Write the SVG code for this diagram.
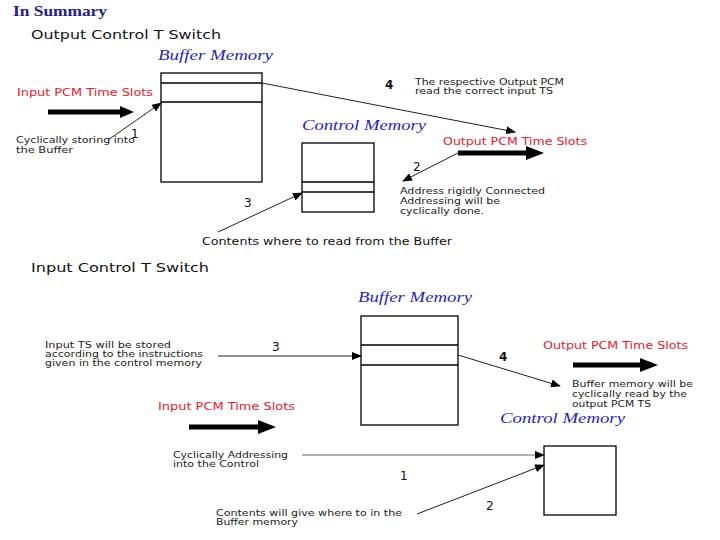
<svg xmlns="http://www.w3.org/2000/svg" width="720" height="540" viewBox="0 0 720 540">
<defs>
<style>
text{lengthAdjust:spacingAndGlyphs}
.t{font-family:"DejaVu Sans","Liberation Sans",sans-serif;fill:#111}
.h{font-size:13px}
.s{font-size:8.8px;fill:#222}
.m{font-size:11px}
.red{font-family:"DejaVu Sans","Liberation Sans",sans-serif;font-size:11px;fill:#e8202a}
.ttl{font-family:"Liberation Serif",serif;font-style:italic;font-size:15.5px;fill:#2424c8}
.n{font-family:"DejaVu Sans",sans-serif;font-size:12px;fill:#111}
.box{fill:#fff;stroke:#000;stroke-width:1.3}
.ln{stroke:#000;stroke-width:1.3}
.c{stroke:#222;stroke-width:1;fill:none;marker-end:url(#ah)}
.g{stroke:#999;stroke-width:1.3;fill:none;marker-end:url(#ah)}
.thick{stroke:#000;stroke-width:5;fill:none}
</style>
<marker id="ah" markerWidth="10" markerHeight="8" refX="9" refY="4" orient="auto" markerUnits="userSpaceOnUse">
<path d="M0,0 L10,4 L0,8 z" fill="#000"/>
</marker>
</defs>
<rect width="720" height="540" fill="#fff"/>
<text x="13" y="16" font-family="Liberation Serif,serif" font-weight="bold" font-size="14.5" fill="#22228a" textLength="94" lengthAdjust="spacingAndGlyphs">In Summary</text>
<text class="t h" x="31" y="39" textLength="190" lengthAdjust="spacingAndGlyphs">Output Control T Switch</text>
<text class="t h" x="31" y="272" textLength="178" lengthAdjust="spacingAndGlyphs">Input Control T Switch</text>

<g id="buffer1">
<text class="ttl" x="158" y="60" textLength="115" lengthAdjust="spacingAndGlyphs">Buffer Memory</text>
<rect class="box" x="161" y="73" width="101" height="109"/>
<line class="ln" x1="161" y1="83" x2="262" y2="83"/>
<line class="ln" x1="161" y1="102" x2="262" y2="102"/>
</g>
<g id="control1">
<text class="ttl" x="302" y="130" textLength="124" lengthAdjust="spacingAndGlyphs">Control Memory</text>
<rect class="box" x="302" y="143" width="72" height="69"/>
<line class="ln" x1="302" y1="182" x2="374" y2="182"/>
<line class="ln" x1="302" y1="192" x2="374" y2="192"/>
</g>
<g id="input1">
<text class="red" x="17" y="96" textLength="136" lengthAdjust="spacingAndGlyphs">Input PCM Time Slots</text>
<line class="thick" x1="48" y1="112" x2="122" y2="112"/>
<path d="M120,106 L134,112 L120,118 z" fill="#000"/>
<text class="t s" x="16" y="143" textLength="119" lengthAdjust="spacingAndGlyphs">Cyclically storing into</text>
<text class="t s" x="16" y="153" textLength="57" lengthAdjust="spacingAndGlyphs">the Buffer</text>
</g>
<g id="output1">
<text class="red" x="443" y="145" textLength="144" lengthAdjust="spacingAndGlyphs">Output PCM Time Slots</text>
<line class="thick" x1="458" y1="153" x2="530" y2="153"/>
<path d="M526,146 L544,153 L526,160 z" fill="#000"/>
<text class="t s" x="400" y="194" textLength="145" lengthAdjust="spacingAndGlyphs">Address rigidly Connected</text>
<text class="t s" x="400" y="204" textLength="100" lengthAdjust="spacingAndGlyphs">Addressing will be</text>
<text class="t s" x="400" y="214" textLength="84" lengthAdjust="spacingAndGlyphs">cyclically done.</text>
<text class="t s" x="415" y="85" textLength="149" lengthAdjust="spacingAndGlyphs">The respective Output PCM</text>
<text class="t s" x="415" y="94" textLength="138" lengthAdjust="spacingAndGlyphs">read the correct input TS</text>
<text class="t m" x="202" y="245" textLength="250" lengthAdjust="spacingAndGlyphs">Contents where to read from the Buffer</text>
</g>

<g id="buffer2">
<text class="ttl" x="358" y="302" textLength="114" lengthAdjust="spacingAndGlyphs">Buffer Memory</text>
<rect class="box" x="361" y="316" width="97" height="109"/>
<line class="ln" x1="361" y1="345" x2="458" y2="345"/>
<line class="ln" x1="361" y1="365" x2="458" y2="365"/>
</g>
<g id="control2">
<text class="ttl" x="500" y="423" textLength="125" lengthAdjust="spacingAndGlyphs">Control Memory</text>
<rect class="box" x="544" y="446" width="72" height="69"/>
</g>
<g id="output2">
<text class="red" x="543" y="349" textLength="145" lengthAdjust="spacingAndGlyphs">Output PCM Time Slots</text>
<line class="thick" x1="573" y1="365" x2="644" y2="365"/>
<path d="M640,358 L658,365 L640,372 z" fill="#000"/>
<text class="t s" x="572" y="387" textLength="121" lengthAdjust="spacingAndGlyphs">Buffer memory will be</text>
<text class="t s" x="572" y="397" textLength="115" lengthAdjust="spacingAndGlyphs">cyclically read by the</text>
<text class="t s" x="572" y="407" textLength="79" lengthAdjust="spacingAndGlyphs">output PCM TS</text>
</g>
<g id="input2">
<text class="red" x="158" y="410" textLength="137" lengthAdjust="spacingAndGlyphs">Input PCM Time Slots</text>
<line class="thick" x1="189" y1="427" x2="262" y2="427"/>
<path d="M258,420 L276,427 L258,434 z" fill="#000"/>
<text class="t s" x="45" y="348" textLength="126" lengthAdjust="spacingAndGlyphs">Input TS will be stored</text>
<text class="t s" x="45" y="357" textLength="158" lengthAdjust="spacingAndGlyphs">according to the instructions</text>
<text class="t s" x="45" y="366" textLength="157" lengthAdjust="spacingAndGlyphs">given in the control memory</text>
<text class="t s" x="173" y="458" textLength="115" lengthAdjust="spacingAndGlyphs">Cyclically Addressing</text>
<text class="t s" x="173" y="467" textLength="86" lengthAdjust="spacingAndGlyphs">into the Control</text>
<text class="t s" x="216" y="516" textLength="186" lengthAdjust="spacingAndGlyphs">Contents will give where to in the</text>
<text class="t s" x="216" y="525" textLength="82" lengthAdjust="spacingAndGlyphs">Buffer memory</text>
</g>

<g id="connectors">
<line class="c" x1="108" y1="140" x2="161" y2="103"/>
<line class="c" x1="262" y1="83" x2="515" y2="132"/>
<line class="c" x1="458" y1="153" x2="403" y2="181"/>
<line class="c" x1="218" y1="232" x2="302" y2="193"/>
<line class="c" x1="218" y1="356" x2="361" y2="356"/>
<line class="c" x1="458" y1="355" x2="560" y2="386"/>
<line class="g" x1="302" y1="455" x2="544" y2="455"/>
<line class="c" x1="417" y1="514" x2="544" y2="465"/>
<text class="n" x="131" y="138">1</text>
<text class="n" x="385" y="89" font-weight="bold">4</text>
<text class="n" x="413" y="171">2</text>
<text class="n" x="244" y="207">3</text>
<text class="n" x="272" y="351">3</text>
<text class="n" x="499" y="361" font-weight="bold">4</text>
<text class="n" x="400" y="480">1</text>
<text class="n" x="486" y="510">2</text>
</g>
</svg>
